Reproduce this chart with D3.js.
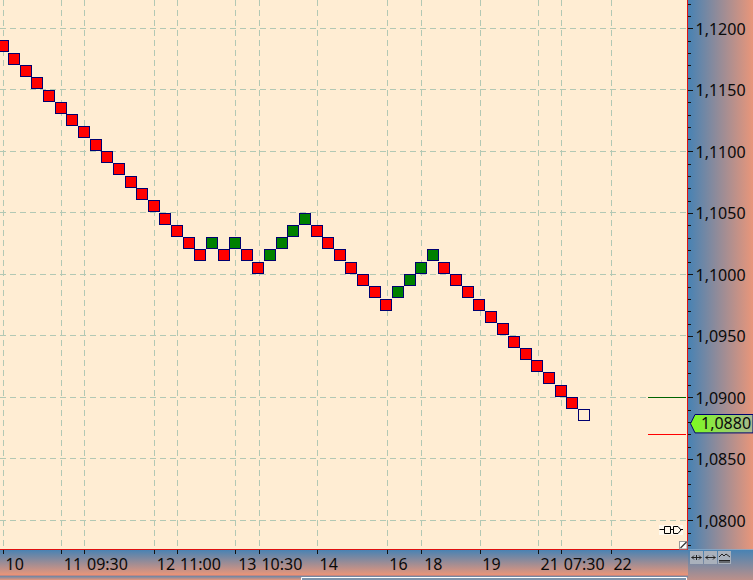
<!DOCTYPE html>
<html><head><meta charset="utf-8">
<script src="https://cdnjs.cloudflare.com/ajax/libs/d3/7.8.5/d3.min.js"></script>
<style>html,body{margin:0;padding:0;background:#fff;overflow:hidden}svg{display:block}
text{font-family:"Noto Sans",sans-serif;font-size:16px;fill:#0a0a0a}</style></head><body>
<svg id="c" width="753" height="580"></svg>
<script>
// brick centre prices, brick direction
const brickPrices = [1.1185,1.1175,1.1165,1.1155,1.1145,1.1135,1.1125,1.1115,1.1105,1.1095,1.1085,1.1075,1.1065,1.1055,1.1045,1.1035,1.1025,1.1015,
 1.1025,1.1015,1.1025,1.1015,1.1005,1.1015,1.1025,1.1035,1.1045,1.1035,1.1025,1.1015,1.1005,1.0995,1.0985,1.0975,1.0985,1.0995,1.1005,1.1015,
 1.1005,1.0995,1.0985,1.0975,1.0965,1.0955,1.0945,1.0935,1.0925,1.0915,1.0905,1.0895,1.0885];
const brickDirs = ["d","d","d","d","d","d","d","d","d","d","d","d","d","d","d","d","d","d",
 "u","d","u","d","d","u","u","u","u","d","d","d","d","d","d","d","u","u","u","u",
 "d","d","d","d","d","d","d","d","d","d","d","d","o"];
const xTickIndex = [0,5,7,13,15,20,22,27,33,36,41,46,48,52.27];
const xTickLabels = ["10","11","09:30","12","11:00","13","10:30","14","16","18","19","21","07:30","22"];
const yMajor = [1.12,1.115,1.11,1.105,1.10,1.095,1.09,1.085,1.08];
const yMinor = [1.123,1.122,1.121,1.119,1.118,1.117,1.116,1.114,1.113,1.112,1.111,1.109,1.108,1.107,1.106,1.104,1.103,1.102,1.101,1.099,1.098,1.097,1.096,1.094,1.093,1.092,1.091,1.089,1.088,1.087,1.086,1.084,1.083,1.082,1.081,1.079,1.078];
const lastPrice = 1.0880;
const upperLevel = 1.0900, lowerLevel = 1.0870;

const W=753,H=580,PR=687.5,PB=549.5;
const x=d3.scaleLinear().domain([0,50]).range([2.6,584]);
const y=d3.scaleLinear().domain([1.12,1.08]).range([28.4,520.4]);
const fmt=v=>d3.format(".4f")(v).replace(".",",");
const svg=d3.select("#c");
const defs=svg.append("defs");
function grad(id,x2,y2,stops){const g=defs.append("linearGradient").attr("id",id).attr("x1",0).attr("y1",0).attr("x2",x2).attr("y2",y2);
 stops.forEach(s=>g.append("stop").attr("offset",s[0]).attr("stop-color",s[1]));}
grad("gh",1,0,[[0,"#4682B4"],[1,"#E9967A"]]);
grad("gv",0,1,[[0,"#4682B4"],[1,"#E9967A"]]);
grad("gt",1,0,[[0,"#7CFC1E"],[1,"#A8B890"]]);

svg.append("rect").attr("width",W).attr("height",H).attr("fill","#fff");
svg.append("rect").attr("width",PR).attr("height",PB).attr("fill","#FFEDD3");
svg.append("rect").attr("x",PR).attr("width",W-PR).attr("height",PB).attr("fill","url(#gh)");
svg.append("rect").attr("y",PB).attr("width",688).attr("height",25.5).attr("fill","url(#gv)");
svg.append("rect").attr("x",688).attr("y",PB).attr("width",65).attr("height",42).attr("fill","url(#gv)");
svg.append("rect").attr("y",575).attr("width",688).attr("height",5).attr("fill","url(#gv)");
svg.append("line").attr("x1",0).attr("x2",688).attr("y1",575.2).attr("y2",575.2).attr("stroke","#F08A70");
// scrollbar frame
svg.append("path").attr("d","M301.5,580V577.5H686.5V580").attr("fill","none").attr("stroke","#fff").attr("stroke-width",1);
svg.append("rect").attr("x",302).attr("y",578).attr("width",384).attr("height",2).attr("fill","#7D93AB");

// grid
const grid=svg.append("g").attr("stroke","#B2C8B4").attr("stroke-width",1).attr("stroke-dasharray","6,4").attr("shape-rendering","crispEdges");
grid.selectAll(".h").data(yMajor).join("line").attr("x1",0).attr("x2",PR).attr("y1",d=>y(d)).attr("y2",d=>y(d));
grid.selectAll(".v").data(xTickIndex).join("line").attr("y1",0).attr("y2",PB).attr("x1",d=>x(d)+.7).attr("x2",d=>x(d)+.7);

// level lines
svg.append("line").attr("x1",648).attr("x2",686).attr("y1",y(upperLevel)).attr("y2",y(upperLevel)).attr("stroke","#006400").attr("shape-rendering","crispEdges");
svg.append("line").attr("x1",648).attr("x2",686).attr("y1",y(lowerLevel)).attr("y2",y(lowerLevel)).attr("stroke","#FF0000").attr("shape-rendering","crispEdges");

// bricks
const fills={d:"#FF0000",u:"#008000",o:"#FFEDD3"};
svg.append("g").selectAll("rect").data(brickPrices).join("rect")
 .attr("x",(d,i)=>Math.round(x(i)-6)+.5).attr("y",d=>Math.floor(y(d)-6)+.5)
 .attr("width",11).attr("height",11)
 .attr("fill",(d,i)=>fills[brickDirs[i]]).attr("stroke","#000070").attr("stroke-width",1)
 .attr("shape-rendering","crispEdges");

// plot border
svg.append("path").attr("d",`M${PR},0V${PB}H0`).attr("fill","none").attr("stroke","#E01010").attr("stroke-width",1).attr("shape-rendering","crispEdges");

// y axis
const ax=svg.append("g").attr("transform",`translate(${PR+.5},0)`).attr("shape-rendering","crispEdges");
ax.call(d3.axisRight(y).tickValues(yMajor).tickSize(5).tickPadding(3).tickFormat(fmt));
ax.select(".domain").remove();
ax.selectAll("line").attr("stroke","#111");
ax.selectAll("text").attr("fill","#0a0a0a").attr("x",7.5).attr("dy","0.36em").style("font-family",'"Noto Sans"').style("font-size","16px");
const ax2=svg.append("g").attr("transform",`translate(${PR+.5},0)`).attr("shape-rendering","crispEdges");
ax2.call(d3.axisRight(y).tickValues(yMinor).tickSize(2.5).tickFormat(""));
ax2.select(".domain").remove();
ax2.selectAll("line").attr("stroke","#111");

// x axis
const tickScale=d3.scaleOrdinal().domain(xTickIndex).range(xTickLabels);
const axx=svg.append("g").attr("transform",`translate(0,${PB+.5})`).attr("shape-rendering","crispEdges");
axx.call(d3.axisBottom(x).tickValues(xTickIndex).tickSize(4).tickFormat(d=>tickScale(d)));
axx.select(".domain").remove();
axx.selectAll(".tick").attr("transform",d=>`translate(${x(d)+.7},0)`);
axx.selectAll("line").attr("stroke","#111");
axx.selectAll("text").attr("fill","#0a0a0a").attr("text-anchor","start").attr("x",2.3).attr("y",19.5).attr("dy",0).style("font-family",'"Noto Sans"').style("font-size","16px");

// last price tag
const ty=423.7;
svg.append("path").attr("d",`M690.5,${ty}L695,${ty-9.2}H753V${ty+9.2}H695Z`).attr("fill","url(#gt)").attr("stroke","#000070");
svg.append("text").attr("x",701).attr("y",ty+5.6).text(fmt(lastPrice));

// buttons
const bx=[690,704,718];
svg.append("g").selectAll("rect").data(bx).join("rect").attr("x",d=>d).attr("y",551).attr("width",13).attr("height",13).attr("fill","#A9B1BC");
svg.append("path").attr("fill","none").attr("stroke","#222").attr("d","M691.5,557.5H701.5M694,555.5L692,557.5L694,559.5M699,555.5L701,557.5L699,559.5M696.5,555V560M705.5,557.5H715.5M708,555.5L706,557.5L708,559.5M713,555.5L715,557.5L713,559.5M719,557L722,554L724,556L726,554L730,557M719,560.5H730M719,562H730");

// plug icon and corner box
svg.append("rect").attr("x",659).attr("y",525).attr("width",24).attr("height",10).attr("fill","#FFF8EC");
svg.append("path").attr("fill","none").attr("stroke","#000").attr("d","M659.5,529.5H664M664.5,526.5H670.5V533.5H664.5ZM670.5,529.5H673M673.5,526.5H678L681,530L678,533.5H673.5ZM681,529.5H683");
svg.append("rect").attr("x",679.5).attr("y",541.5).attr("width",7.5).attr("height",7.5).attr("fill","#fff").attr("stroke","#999");
svg.append("path").attr("d","M680.5,548L686.5,542").attr("stroke","#333").attr("stroke-width",1.2);
</script></body></html>
